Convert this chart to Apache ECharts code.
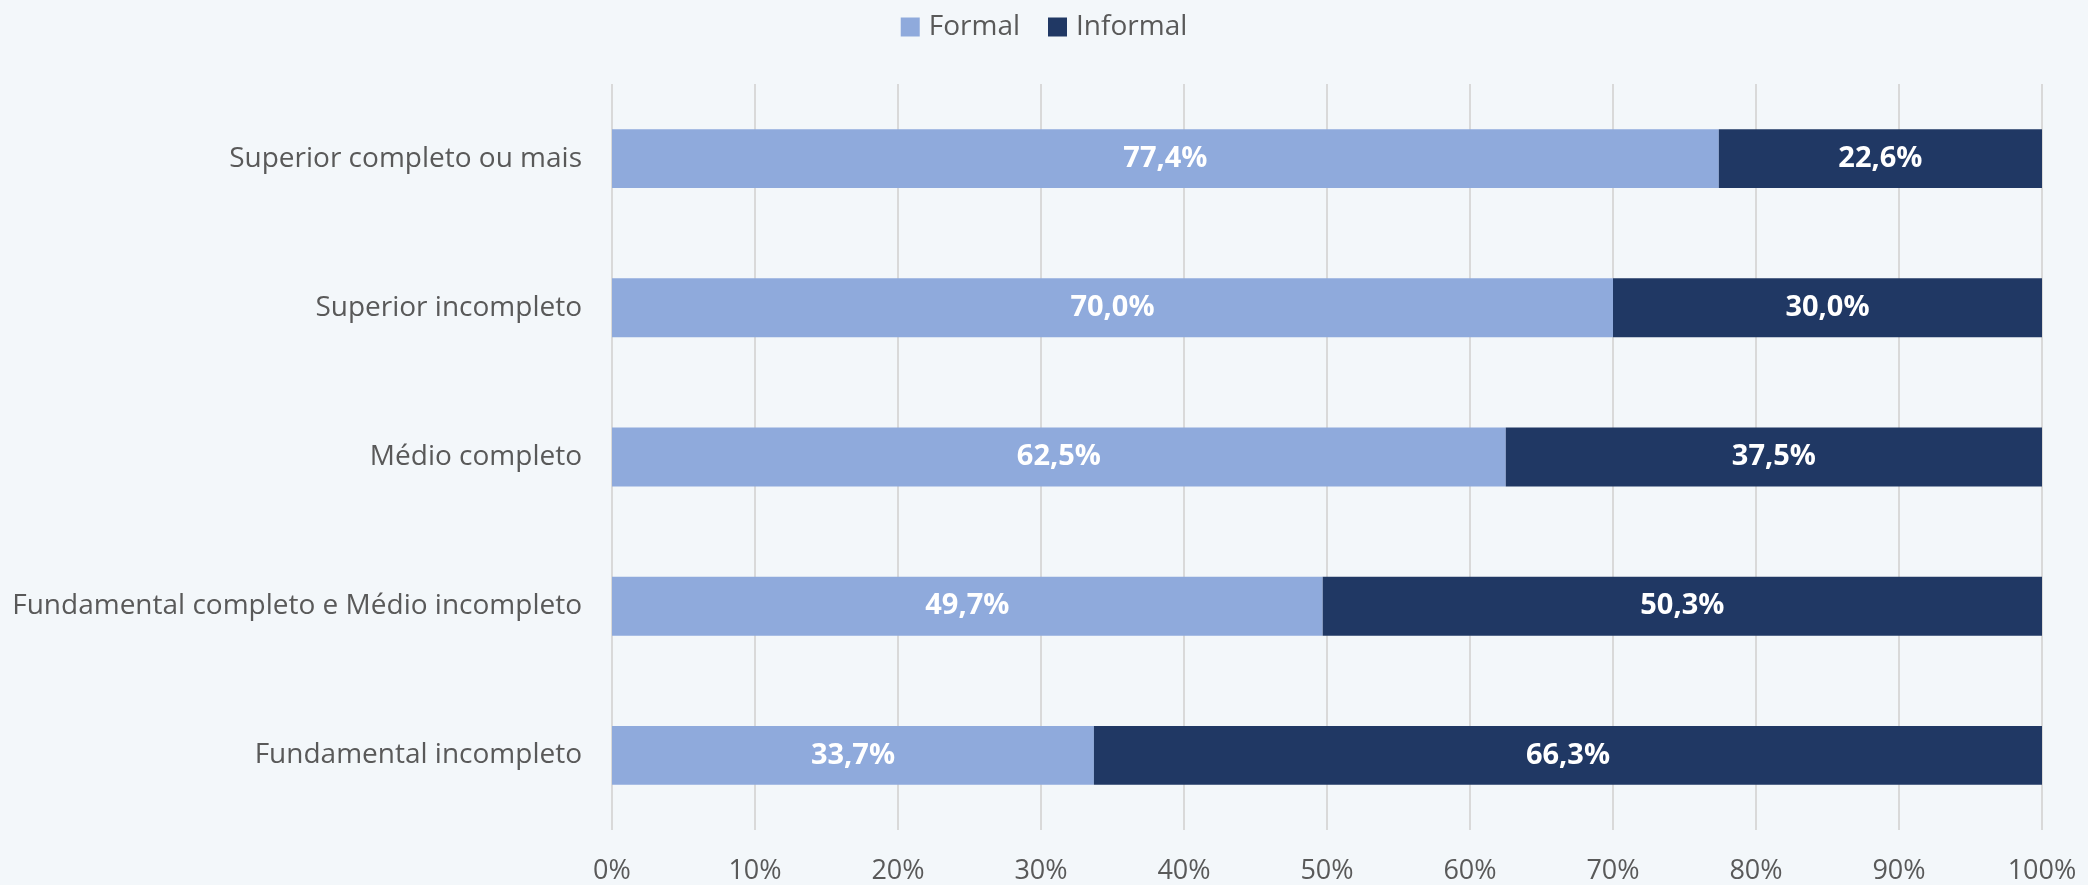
<!DOCTYPE html>
<html>
<head>
<meta charset="utf-8">
<script src="https://cdn.jsdelivr.net/npm/echarts@6/dist/echarts.min.js"></script>
<style>
  html, body { margin: 0; padding: 0; background: #f3f7fa; }
  #chart { width: 2088px; height: 885px; }
</style>
</head>
<body>
<div id="chart"></div>
<script>
    // categorias de escolaridade (de baixo para cima)
    var categories = [
        'Fundamental incompleto',
        'Fundamental completo e Médio incompleto',
        'Médio completo',
        'Superior incompleto',
        'Superior completo ou mais'
    ];
    var formal = [33.7, 49.7, 62.5, 70.0, 77.4];
    var informal = [66.3, 50.3, 37.5, 30.0, 22.6];
    var xTicks = [0, 10, 20, 30, 40, 50, 60, 70, 80, 90, 100];

    var font = '"Open Sans", Lato, sans-serif';
    var chart = echarts.init(document.getElementById('chart'));

    function fmt(v) {
        return v.toFixed(1).replace('.', ',') + '%';
    }

    var barLabel = {
        show: true,
        position: 'inside',
        color: '#ffffff',
        fontFamily: font,
        fontSize: 29,
        fontWeight: 'bold',
        formatter: function (p) { return fmt(p.value); }
    };

    var option = {
        backgroundColor: '#f3f7fa',
        textStyle: { fontFamily: font },
        legend: {
            top: 8,
            left: 'center',
            itemWidth: 19,
            itemHeight: 19,
            itemGap: 28,
            icon: 'rect',
            textStyle: { color: '#595959', fontSize: 28, fontFamily: font, padding: [0, 0, 0, 4] },
            data: ['Formal', 'Informal']
        },
        grid: {
            left: 612,
            right: 46,
            top: 84,
            bottom: 55,
            containLabel: false
        },
        xAxis: {
            type: 'value',
            min: xTicks[0],
            max: xTicks[xTicks.length - 1],
            interval: 10,
            axisLine: { show: false },
            axisTick: { show: false },
            splitLine: { show: true, lineStyle: { color: '#d9d9d9', width: 2 } },
            axisLabel: {
                color: '#595959',
                fontSize: 27,
                fontFamily: font,
                margin: 28,
                formatter: '{value}%'
            }
        },
        yAxis: {
            type: 'category',
            data: categories,
            axisLine: { show: false },
            axisTick: { show: false },
            axisLabel: {
                color: '#595959',
                fontSize: 28,
                fontFamily: font,
                margin: 30
            }
        },
        series: [
            {
                name: 'Formal',
                type: 'bar',
                stack: 'total',
                barWidth: '39.5%',
                itemStyle: { color: '#8faadc' },
                label: barLabel,
                data: formal
            },
            {
                name: 'Informal',
                type: 'bar',
                stack: 'total',
                barWidth: '39.5%',
                itemStyle: { color: '#203864' },
                label: barLabel,
                data: informal
            }
        ]
    };

    chart.setOption(option);
</script>
</body>
</html>
